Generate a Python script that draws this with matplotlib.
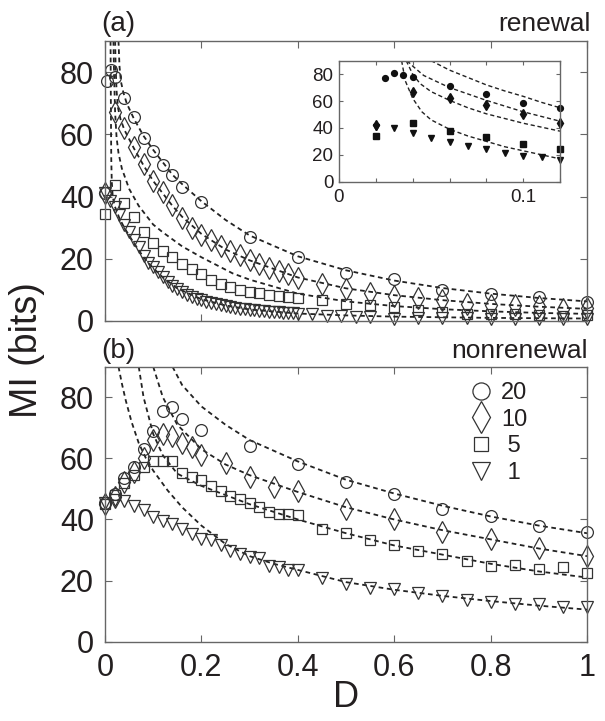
import numpy as np
import matplotlib.pyplot as plt

plt.rcParams['font.family'] = ['Liberation Sans', 'DejaVu Sans']

# ---------------- panel (a): renewal ----------------
a_circ_D = [0, 0.004, 0.012, 0.02, 0.04, 0.06, 0.08, 0.1, 0.12, 0.14, 0.16, 0.2,
            0.3, 0.4, 0.5, 0.6, 0.7, 0.8, 0.9, 1.0]
a_circ_MI = [41.3, 77.3, 80.6, 78.5, 71.7, 65.5, 58.9, 54.6, 50.1, 46.9, 43.2, 38.1,
             27.1, 20.6, 15.5, 13.4, 10.0, 8.8, 7.7, 6.1]

a_diam_D = [0, 0.02, 0.04, 0.06, 0.08, 0.1, 0.12, 0.14, 0.16, 0.18, 0.2, 0.22, 0.24,
            0.26, 0.28, 0.3, 0.32, 0.34, 0.36, 0.38, 0.4, 0.45, 0.5, 0.55, 0.6, 0.65,
            0.7, 0.75, 0.8, 0.85, 0.9, 0.95, 1.0]
a_diam_MI = [41.3, 67.3, 62.0, 56.0, 50.5, 45.0, 41.5, 37.3, 33.0, 30.0, 27.5, 26.0, 24.0,
             22.6, 21.2, 19.5, 18.3, 17.0, 16.0, 15.0, 13.8, 12.0, 10.2, 8.9, 8.1, 7.5,
             6.6, 5.6, 5.2, 5.0, 4.8, 4.0, 4.3]

a_sq_D = [0, 0.02, 0.04, 0.06, 0.08, 0.1, 0.12, 0.14, 0.16, 0.18, 0.2, 0.22, 0.24,
          0.26, 0.28, 0.3, 0.32, 0.34, 0.36, 0.38, 0.4, 0.45, 0.5, 0.55, 0.6, 0.65,
          0.7, 0.75, 0.8, 0.85, 0.9, 0.95, 1.0]
a_sq_MI = [34.3, 43.8, 37.8, 33.3, 28.5, 25.0, 22.6, 20.5, 18.3, 16.7, 15.1, 13.3, 11.9,
           10.9, 9.9, 9.4, 9.0, 8.5, 8.0, 7.6, 7.3, 6.8, 5.6, 5.0, 4.6, 3.5,
           3.0, 2.4, 2.2, 2.2, 2.0, 1.7, 1.9]

a_tri_D = [0, 0.01, 0.02, 0.03, 0.04, 0.05, 0.06, 0.07, 0.08, 0.09, 0.1, 0.11, 0.12,
           0.13, 0.14, 0.15, 0.16, 0.17, 0.18, 0.19, 0.2, 0.21, 0.22, 0.23, 0.24, 0.25,
           0.26, 0.27, 0.28, 0.29, 0.3, 0.31, 0.32, 0.33, 0.34, 0.35, 0.36, 0.37, 0.38,
           0.39, 0.4, 0.43, 0.46, 0.49, 0.52, 0.55, 0.6, 0.65, 0.7, 0.75, 0.8, 0.85,
           0.9, 0.95, 1.0]
a_tri_MI = [41.0, 38.5, 36.5, 34.0, 31.0, 28.5, 26.0, 23.7, 21.0, 18.5, 17.5, 15.8, 14.2,
            12.5, 11.2, 10.2, 9.2, 8.5, 7.8, 7.2, 6.7, 6.2, 5.8, 5.4, 5.0, 4.7,
            4.4, 4.2, 4.0, 3.8, 3.6, 3.4, 3.3, 3.2, 3.0, 2.9, 2.8, 2.7, 2.6,
            2.5, 2.4, 2.2, 1.6, 1.5, 1.4, 1.4, 0.8, 1.0, 0.9, 0.9, 0.8, 0.8,
            0.7, 0.7, 0.7]

# dashed fit curves
a_fit_circ_D = [0.028, 0.03, 0.033, 0.038, 0.045, 0.06, 0.08, 0.1, 0.12, 0.14, 0.16,
                0.2, 0.25, 0.3, 0.4, 0.5, 0.6, 0.7, 0.8, 0.9, 1.0]
a_fit_circ_MI = [90, 82, 77, 73.5, 70, 65, 59.5, 55, 51, 47, 44,
                 38.5, 32.5, 27.5, 20.8, 16.3, 13, 10.6, 8.8, 7.4, 6.3]
a_fit_diam_D = [0.021, 0.022, 0.024, 0.027, 0.032, 0.04, 0.06, 0.08, 0.1, 0.12, 0.14,
                0.16, 0.2, 0.25, 0.3, 0.4, 0.5, 0.6, 0.7, 0.8, 0.9, 1.0]
a_fit_diam_MI = [90, 82, 74, 68.5, 65, 61.5, 55.5, 50, 45, 41, 37,
                 33.5, 28, 23, 19.5, 14, 10.5, 8.3, 6.7, 5.5, 4.6, 3.9]
a_fit_sq_D = [0.0175, 0.019, 0.021, 0.024, 0.028, 0.035, 0.05, 0.07, 0.1, 0.12, 0.16,
              0.2, 0.265, 0.3, 0.4, 0.5, 0.6, 0.7, 0.8, 0.9, 1.0]
a_fit_sq_MI = [90, 78, 67, 59, 54, 49, 42.5, 37, 31, 28.5, 24,
               20.5, 15.3, 13.3, 8.8, 6.3, 4.8, 3.8, 3.1, 2.6, 2.3]
a_fit_tri_D = [0.0115, 0.012, 0.0125, 0.013, 0.014, 0.016, 0.02, 0.03, 0.04, 0.05,
               0.06, 0.08, 0.1, 0.12, 0.15, 0.2, 0.25, 0.3, 0.4, 0.5, 0.6, 0.7, 0.8,
               0.9, 1.0]
a_fit_tri_MI = [90, 75, 62, 52, 45, 40, 37, 33, 30, 27.5,
                25, 20.5, 17, 14, 10.5, 7, 5, 3.7, 2.4, 1.8, 1.4, 1.2, 1.0,
                0.9, 0.8]

# inset of panel (a)
in_circ_D = [0.025, 0.03, 0.035, 0.04, 0.06, 0.08, 0.1, 0.12]
in_circ_MI = [77, 80.5, 79.5, 78, 71.5, 65.5, 58.5, 54.5]
in_diam_D = [0.02, 0.04, 0.06, 0.08, 0.1, 0.12]
in_diam_MI = [42, 66.5, 62, 56.8, 50, 44]
in_sq_D = [0.02, 0.04, 0.06, 0.08, 0.1, 0.12]
in_sq_MI = [34, 44, 38, 33, 28, 24.5]
in_tri_D = [0.02, 0.03, 0.04, 0.05, 0.06, 0.07, 0.08, 0.09, 0.1, 0.11, 0.12]
in_tri_MI = [40.5, 40, 36, 32.5, 29.5, 26.5, 24.5, 21.5, 19, 18, 16.5]

in_fit1_D = [0.05, 0.06, 0.07, 0.08, 0.09, 0.1, 0.11, 0.12]
in_fit1_MI = [90, 83, 77.5, 72, 67.5, 63.5, 59, 55]
in_fit2_D = [0.037, 0.04, 0.046, 0.06, 0.08, 0.1, 0.12]
in_fit2_MI = [90, 86, 79, 70, 60.5, 52, 45]
in_fit3_D = [0.0365, 0.04, 0.044, 0.05, 0.06, 0.07, 0.08, 0.1, 0.12]
in_fit3_MI = [90, 80, 73, 67, 60.5, 55, 50.5, 43.5, 37.6]
in_fit4_D = [0.034, 0.036, 0.04, 0.045, 0.05, 0.06, 0.07, 0.08, 0.09, 0.1, 0.11, 0.12]
in_fit4_MI = [90, 75, 62, 52, 46, 39, 34, 30, 26, 23, 20, 17]

# ---------------- panel (b): nonrenewal ----------------
b_circ_D = [0, 0.02, 0.04, 0.06, 0.08, 0.1, 0.12, 0.14, 0.16, 0.2, 0.3, 0.4, 0.5,
            0.6, 0.7, 0.8, 0.9, 1.0]
b_circ_MI = [45.5, 48.4, 53.5, 57.3, 63.0, 69.0, 75.6, 76.8, 72.8, 69.3, 64.2, 58.1, 52.2,
             48.2, 43.5, 41.1, 37.9, 35.9]
b_diam_D = [0, 0.02, 0.04, 0.06, 0.08, 0.1, 0.12, 0.14, 0.16, 0.18, 0.2, 0.25, 0.3,
            0.35, 0.4, 0.5, 0.6, 0.7, 0.8, 0.9, 1.0]
b_diam_MI = [45.0, 47.5, 52.3, 55.5, 60.0, 66.0, 68.0, 67.3, 65.0, 63.6, 61.0, 58.6, 54.0,
             50.7, 49.4, 43.5, 40.0, 35.9, 33.6, 30.8, 28.0]
b_sq_D = [0, 0.02, 0.04, 0.06, 0.08, 0.1, 0.12, 0.14, 0.16, 0.18, 0.2, 0.22, 0.24,
          0.26, 0.28, 0.3, 0.32, 0.34, 0.36, 0.38, 0.4, 0.45, 0.5, 0.55, 0.6, 0.65,
          0.7, 0.75, 0.8, 0.85, 0.9, 0.95, 1.0]
b_sq_MI = [45.0, 47.9, 51.9, 54.4, 57.2, 59.1, 59.2, 59.2, 55.2, 54.0, 52.9, 51.0, 49.2,
           47.8, 46.6, 45.5, 44.2, 42.5, 41.7, 41.7, 41.4, 36.9, 35.6, 33.2, 31.6, 29.7,
           28.8, 26.4, 24.7, 25.0, 23.9, 24.3, 22.5]
b_tri_D = b_sq_D
b_tri_MI = [45.5, 46.5, 46.0, 44.5, 43.0, 40.8, 39.4, 38.6, 37.0, 35.3, 33.5, 33.2, 31.5,
            29.6, 28.7, 27.8, 27.4, 24.8, 24.6, 23.6, 23.5, 21.0, 19.0, 17.7, 17.4, 15.8,
            14.9, 13.6, 13.1, 12.3, 12.5, 11.4, 11.2]

b_fit_circ_D = [0.14, 0.16, 0.2, 0.25, 0.3, 0.4, 0.5, 0.6, 0.7, 0.8, 0.9, 1.0]
b_fit_circ_MI = [90, 84, 77, 71, 66, 59, 53, 48.5, 44.5, 41, 38, 35.5]
b_fit_diam_D = [0.1, 0.12, 0.15, 0.2, 0.25, 0.3, 0.4, 0.5, 0.6, 0.7, 0.8, 0.9, 1.0]
b_fit_diam_MI = [90, 80, 71, 63, 58, 54.5, 49, 44, 40, 36.5, 33.5, 30.5, 28]
b_fit_sq_D = [0.07, 0.08, 0.1, 0.12, 0.15, 0.2, 0.3, 0.4, 0.5, 0.6, 0.7, 0.8, 0.9, 1.0]
b_fit_sq_MI = [90, 80, 68, 61, 55, 51, 45, 40, 35.5, 31.5, 28.5, 25.5, 23, 21]
b_fit_tri_D = [0.028, 0.035, 0.043, 0.055, 0.07, 0.085, 0.1, 0.13, 0.16, 0.2, 0.25,
               0.3, 0.35, 0.4, 0.5, 0.6, 0.7, 0.8, 0.9, 1.0]
b_fit_tri_MI = [90, 84.5, 79, 72, 65, 60, 56, 49.5, 44, 38, 32,
                28, 25.5, 23.5, 19.5, 17, 15, 13.3, 11.8, 10.5]

legend_labels = ['20', '10', ' 5', ' 1']

EDGE = '#333333'
SPINE = '#666666'
TXT = '#231f20'
FIT_STYLE = dict(color='#222222', lw=1.3, ls=(0, (2.6, 2.0)))


def style_axes(ax, size, pad):
    ax.tick_params(direction='in', top=True, right=True, length=5, width=0.8,
                   color=SPINE, labelcolor=TXT, labelsize=size, pad=pad)
    for s in ax.spines.values():
        s.set_color(SPINE)
        s.set_linewidth(1.0)


def hollow(ax, D, MI, marker, ms):
    return ax.plot(D, MI, ls='none', marker=marker, ms=ms, mfc='none', mec=EDGE,
                   mew=0.9, clip_on=False)[0]


fig = plt.figure(figsize=(6.05, 7.21), dpi=100)
ax_a = fig.add_axes([105 / 605, 1 - 321 / 721, 482 / 605, 280 / 721])
ax_b = fig.add_axes([105 / 605, 1 - 641.7 / 721, 482 / 605, 275 / 721])

series_a = [(a_circ_D, a_circ_MI, 'o', 8.5), (a_diam_D, a_diam_MI, 'd', 11),
            (a_sq_D, a_sq_MI, 's', 7), (a_tri_D, a_tri_MI, 'v', 8.5)]
fits_a = [(a_fit_circ_D, a_fit_circ_MI), (a_fit_diam_D, a_fit_diam_MI),
          (a_fit_sq_D, a_fit_sq_MI), (a_fit_tri_D, a_fit_tri_MI)]
series_b = [(b_circ_D, b_circ_MI, 'o', 8.5), (b_diam_D, b_diam_MI, 'd', 11),
            (b_sq_D, b_sq_MI, 's', 7), (b_tri_D, b_tri_MI, 'v', 8.5)]
fits_b = [(b_fit_circ_D, b_fit_circ_MI), (b_fit_diam_D, b_fit_diam_MI),
          (b_fit_sq_D, b_fit_sq_MI), (b_fit_tri_D, b_fit_tri_MI)]

handles = []
for ax, series, fits in [(ax_a, series_a, fits_a), (ax_b, series_b, fits_b)]:
    for D, MI in fits:
        ax.plot(D, MI, **FIT_STYLE)
    hs = [hollow(ax, D, MI, m, ms) for D, MI, m, ms in series]
    if ax is ax_b:
        handles = hs
    ax.set_xlim(0, 1)
    ax.set_ylim(0, 90)
    ax.set_xticks([0, 0.2, 0.4, 0.6, 0.8, 1.0])
    ax.set_yticks([0, 20, 40, 60, 80])
    style_axes(ax, 22, 8)

ax_a.set_xticklabels([])
ax_b.set_xticklabels(['0', '0.2', '0.4', '0.6', '0.8', '1'])
ax_b.set_xlabel('D', fontsize=26, color=TXT, labelpad=-2)

leg = ax_b.legend(handles, legend_labels, loc='upper left',
                  bbox_to_anchor=(0.758, 0.945), frameon=False, fontsize=17,
                  markerscale=1.45, handlelength=0.9, handletextpad=0.4,
                  labelspacing=0.2, borderpad=0, borderaxespad=0)
for t in leg.get_texts():
    t.set_color(TXT)

# inset
ax_in = fig.add_axes([339 / 605, 1 - 181.7 / 721, 221 / 605, 121 / 721])
for D, MI in [(in_fit1_D, in_fit1_MI), (in_fit2_D, in_fit2_MI),
              (in_fit3_D, in_fit3_MI), (in_fit4_D, in_fit4_MI)]:
    ax_in.plot(D, MI, color='#222222', lw=1.0, ls=(0, (3, 2)))
for D, MI, m, ms in [(in_circ_D, in_circ_MI, 'o', 4.2), (in_diam_D, in_diam_MI, 'd', 5),
                     (in_sq_D, in_sq_MI, 's', 3.8), (in_tri_D, in_tri_MI, 'v', 4.6)]:
    ax_in.plot(D, MI, ls='none', marker=m, ms=ms, color='#111111', clip_on=False)
ax_in.set_xlim(0, 0.12)
ax_in.set_ylim(0, 90)
ax_in.set_xticks([0, 0.02, 0.04, 0.06, 0.08, 0.1, 0.12])
ax_in.set_xticklabels(['0', '', '', '', '', '0.1', ''])
ax_in.set_yticks([0, 20, 40, 60, 80])
style_axes(ax_in, 13.5, 2)
ax_in.tick_params(length=3)
ax_in.tick_params(axis='x', pad=5)
ax_in.tick_params(axis='y', pad=4)

fig.text(101 / 605, 1 - 31 / 721, '(a)', fontsize=20, color=TXT, ha='left', va='baseline')
fig.text(591 / 605, 1 - 31 / 721, 'renewal', fontsize=19, color=TXT, ha='right', va='baseline')
fig.text(101 / 605, 1 - 358 / 721, '(b)', fontsize=20, color=TXT, ha='left', va='baseline')
fig.text(588 / 605, 1 - 358 / 721, 'nonrenewal', fontsize=19, color=TXT, ha='right',
         va='baseline')
fig.text(27 / 605, 1 - 350 / 721, 'MI (bits)', fontsize=27, color=TXT, rotation=90,
         ha='center', va='center')

fig.savefig('out.png', dpi=100)
